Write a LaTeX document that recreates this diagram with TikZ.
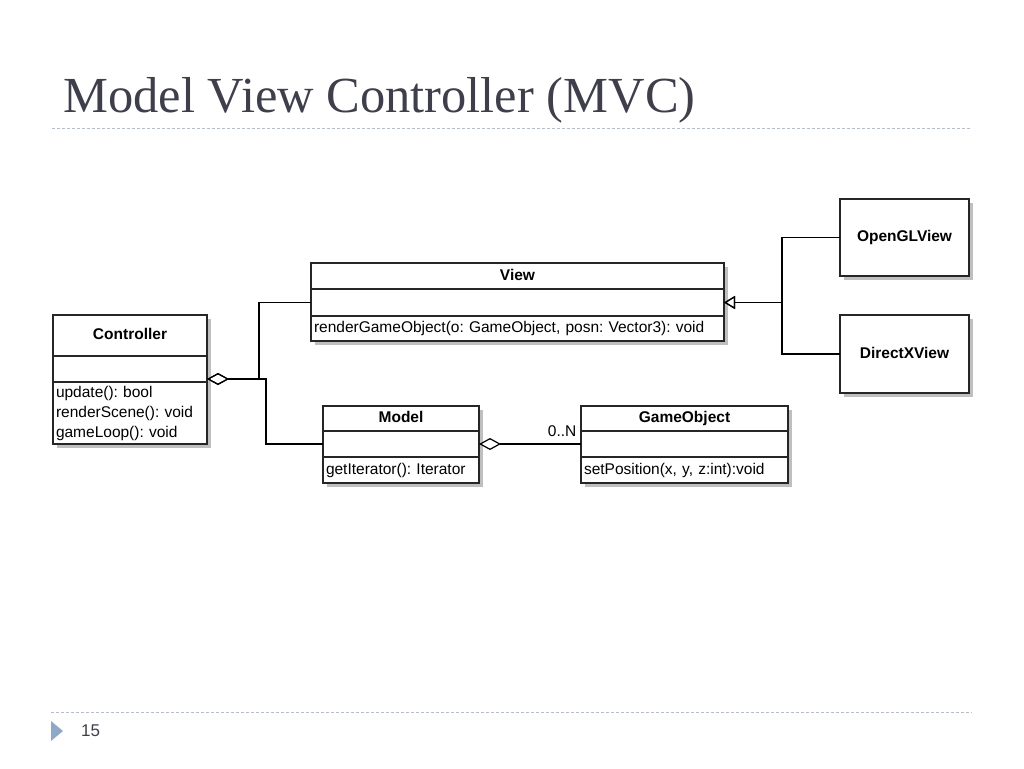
\documentclass[tikz,border=0pt]{standalone}
\usepackage{fontspec}
\setmainfont{Liberation Serif}
\newfontfamily\umlfamily{Liberation Sans}
\usetikzlibrary{positioning,shadows,arrows.meta}
\definecolor{titlegray}{HTML}{3F3F4C}
\definecolor{rulegray}{HTML}{B4BCC8}
\definecolor{bulletblue}{HTML}{8EA9C8}
\frenchspacing
\newcommand{\umlfont}{\umlfamily\fontsize{15.5}{20}\selectfont}
\tikzset{
	umlpart/.style={draw=black!85,line width=1.3pt,fill=white,inner xsep=3pt,inner ysep=0pt,outer sep=0pt,
		drop shadow={shadow xshift=4pt,shadow yshift=-4pt,fill=black!25,opacity=1},font=\umlfont},
	umlname/.style={umlpart,font=\umlfont\bfseries,align=center,text height=11pt,text depth=3pt},
	umlops/.style={umlpart,align=left},
	aggline/.style={line width=1.2pt,{Diamond[open,length=22pt,width=12pt]}-},
	inhline/.style={line width=1.2pt,{Triangle[open,length=11pt,width=13pt]}-},
	sepline/.style={rulegray,line width=1pt,dash pattern=on 3pt off 2pt},
}
\begin{document}
\begin{tikzpicture}[x=1pt,y=-1pt]
	\useasboundingbox (0,0) rectangle (1024,768);
	% title and rules
	\node[anchor=base west,inner sep=0pt,text=titlegray,font=\fontsize{50.5}{60}\selectfont] (title) at (63,112) {Model View Controller (MVC)};
	\draw[sepline] (52,128) -- (972,128);
	\draw[sepline] (51,712) -- (972,712);
	\fill[bulletblue] (51,721) -- (63,731) -- (51,741) -- cycle;
	\node[anchor=base west,inner sep=0pt,text=titlegray,font=\umlfamily\fontsize{17}{20}\selectfont] (pagenum) at (81,736) {15};
	% Controller
	\node[umlname,text width=148pt,minimum height=41pt,anchor=north west] (ctrl) at (53,315) {Controller};
	\node[umlops,text width=148pt,minimum height=26pt,below=0pt of ctrl] (ctrl-attr) {};
	\node[umlops,text width=148pt,minimum height=62pt,below=0pt of ctrl-attr] (ctrl-ops) {update(): bool\\renderScene(): void\\gameLoop(): void};
	% View
	\node[umlname,text width=407pt,minimum height=26pt,anchor=north west] (view) at (311,263) {View};
	\node[umlops,text width=407pt,minimum height=27pt,below=0pt of view] (view-attr) {};
	\node[umlops,text width=407pt,minimum height=25pt,below=0pt of view-attr] (view-ops) {renderGameObject(o: GameObject, posn: Vector3): void};
	% Model
	\node[umlname,text width=150pt,minimum height=25pt,anchor=north west] (model) at (323,406) {Model};
	\node[umlops,text width=150pt,minimum height=26pt,below=0pt of model] (model-attr) {};
	\node[umlops,text width=150pt,minimum height=26pt,below=0pt of model-attr] (model-ops) {getIterator(): Iterator};
	% GameObject
	\node[umlname,text width=201pt,minimum height=25pt,anchor=north west] (gobj) at (581,406) {GameObject};
	\node[umlops,text width=201pt,minimum height=26pt,below=0pt of gobj] (gobj-attr) {};
	\node[umlops,text width=201pt,minimum height=26pt,below=0pt of gobj-attr] (gobj-ops) {setPosition(x, y, z:int):void};
	% subclasses of View
	\node[umlname,text width=123pt,minimum height=77pt,anchor=north west] (ogl) at (840,199) {OpenGLView};
	\node[umlname,text width=123pt,minimum height=78pt,anchor=north west] (dx) at (840,315) {DirectXView};
	% connectors
	\draw[aggline] ([yshift=3pt]ctrl-ops.north east) -- ++(52,0) |- (view-attr.west);
	\draw[aggline] ([yshift=3pt]ctrl-ops.north east) -- ++(59,0) |- (model-attr.west);
	\draw[aggline] (model-attr.east) -- (gobj-attr.west)
		node[anchor=south east,inner sep=0pt,xshift=-4pt,yshift=7pt,font=\umlfont] (mult) {0..N};
	\draw[inhline] (view-attr.east) -- ++(58,0) |- (ogl.west);
	\draw[inhline] (view-attr.east) -- ++(58,0) |- (dx.west);
\end{tikzpicture}
\end{document}
